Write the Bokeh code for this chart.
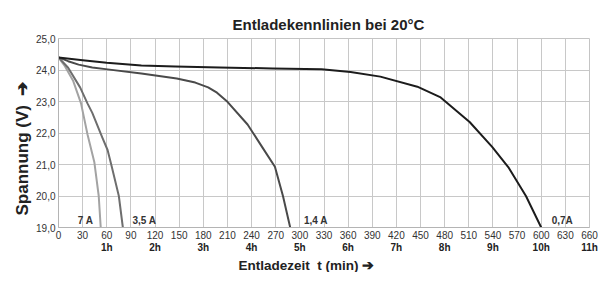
from bokeh.plotting import figure
from bokeh.models import FixedTicker, Range1d, ColumnDataSource, LinearAxis, Title
from bokeh.core.properties import value
from bokeh.embed import file_html
from bokeh.resources import INLINE

# ---------------- data ----------------
title_text = "Entladekennlinien bei 20°C"
x_label_text = "Entladezeit\u00a0 t (min) ➔"
y_label_text = "Spannung (V)\u00a0 ➔"

x_ticks = list(range(0, 661, 30))
y_ticks = [19, 20, 21, 22, 23, 24, 25]
y_tick_labels = ["19,0", "20,0", "21,0", "22,0", "23,0", "24,0", "25,0"]
hour_ticks = [60, 120, 180, 240, 300, 360, 420, 480, 540, 600, 660]
hour_labels = ["1h", "2h", "3h", "4h", "5h", "6h", "7h", "8h", "9h", "10h", "11h"]

t_07 = [0, 30, 60, 103, 145, 200, 266, 327, 363, 400, 446, 475, 511, 539, 559, 581, 600]
v_07 = [24.4, 24.31, 24.23, 24.14, 24.11, 24.08, 24.05, 24.02, 23.94, 23.79, 23.47, 23.13, 22.35, 21.56, 20.92, 20.0, 19.0]

t_14 = [0, 12, 25, 42, 61, 103, 147, 170, 186, 197, 210, 235, 254, 269, 279, 288]
v_14 = [24.4, 24.28, 24.17, 24.08, 24.02, 23.89, 23.73, 23.6, 23.45, 23.28, 22.99, 22.27, 21.52, 20.93, 20.0, 19.0]

t_35 = [0, 12, 27, 36, 42, 54.5, 61, 66, 75, 80]
v_35 = [24.4, 24.07, 23.44, 22.94, 22.64, 21.85, 21.46, 20.95, 20.0, 19.0]

t_70 = [0, 8, 18, 28, 36, 44.5, 50, 52.5]
v_70 = [24.4, 24.12, 23.67, 22.94, 21.96, 21.08, 20.0, 19.0]

curve_names = ["7 A", "3,5 A", "1,4 A", "0,7A"]
curve_label_x = [24, 92, 305, 613]

# ---------------- figure ----------------
FONT = "Liberation Sans"

p = figure(width=598, height=272, output_backend="svg", toolbar_location=None,
           x_range=Range1d(0, 660), y_range=Range1d(19, 25),
           min_border_left=58, min_border_right=9, min_border_top=38, min_border_bottom=44,
           background_fill_color="white", border_fill_color="white")

p.outline_line_color = "#c4c4c4"
p.xgrid.grid_line_color = "#c8c8c8"
p.ygrid.grid_line_color = "#c8c8c8"
p.xgrid.ticker = FixedTicker(ticks=x_ticks)
p.ygrid.ticker = FixedTicker(ticks=y_ticks)

for ax in (p.xaxis[0], p.yaxis[0]):
    ax.axis_line_color = "#b4b4b4"
    ax.major_tick_line_color = None
    ax.minor_tick_line_color = None
    ax.major_tick_out = 0
    ax.major_tick_in = 0
    ax.major_label_text_font = FONT
    ax.major_label_text_font_size = "10px"
    ax.major_label_text_color = "#333333"

p.xaxis.ticker = FixedTicker(ticks=x_ticks)
p.xaxis.major_label_standoff = 3
p.yaxis.ticker = FixedTicker(ticks=y_ticks)
p.yaxis.major_label_overrides = {t: s for t, s in zip(y_ticks, y_tick_labels)}
p.yaxis.major_label_standoff = 3

# second tick row: hours
hax = LinearAxis(ticker=FixedTicker(ticks=hour_ticks),
                 major_label_overrides={t: s for t, s in zip(hour_ticks, hour_labels)},
                 axis_line_color=None, major_tick_line_color=None, minor_tick_line_color=None,
                 major_tick_out=0, major_tick_in=0, major_label_standoff=0,
                 major_label_text_font=FONT, major_label_text_font_size="10px",
                 major_label_text_font_style="bold", major_label_text_color="#222222")
p.add_layout(hax, "below")

# curves
for t, v, col in [(t_70, v_70, "#a3a3a3"), (t_35, v_35, "#6e6e6e"),
                  (t_14, v_14, "#4a4a4a"), (t_07, v_07, "#1c1c1c")]:
    p.line(t, v, line_color=col, line_width=2, line_join="round")

# curve labels
src = ColumnDataSource(dict(x=curve_label_x, y=[19.0] * 4, t=curve_names))
p.text(x="x", y="y", text="t", source=src, y_offset=-2,
       text_font=value(FONT), text_font_style="bold", text_font_size="10px",
       text_color="#333333", text_align="left", text_baseline="bottom")

# title
p.title.text = title_text
p.title.align = "left"
p.title.offset = 174
p.title.standoff = 12
p.title.text_font = FONT
p.title.text_font_style = "bold"
p.title.text_font_size = "15px"
p.title.text_color = "#222222"

# x axis label (below the hour row)
p.add_layout(Title(text=x_label_text, align="left", offset=180, standoff=0,
                   text_font=FONT, text_font_style="bold", text_font_size="13.5px",
                   text_color="#222222"), "below")

# y axis label
p.add_layout(Title(text=y_label_text, align="left", offset=12, standoff=4,
                   text_font=FONT, text_font_style="bold", text_font_size="17px",
                   text_color="#222222"), "left")

open("out.html", "w").write(file_html(p, INLINE))
